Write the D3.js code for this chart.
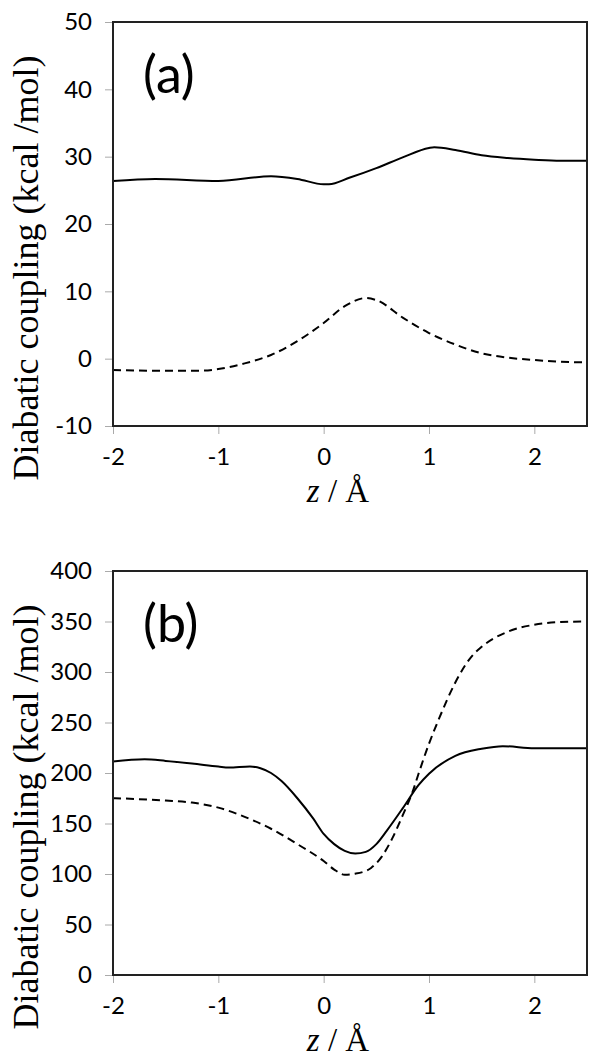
<!DOCTYPE html>
<html>
<head>
<meta charset="utf-8">
<script src="https://cdn.jsdelivr.net/npm/d3@7"></script>
<style>
  body { margin: 0; background: #fff; }
  .tick text { font-family: Lato, "Open Sans", sans-serif; font-size: 24px; fill: #000; }
  .tick line { stroke: #aaa; }
  .domain { display: none; }
</style>
</head>
<body>
<svg id="chart" width="602" height="1061"></svg>
<script>
// x positions (z / Å)
var zA = [-2, -1.6, -1, -0.5, -0.25, 0, 0.05, 0.25, 0.5, 0.75, 1.0, 1.05, 1.25, 1.5, 1.75, 2.0, 2.25, 2.5];
var solidA = [26.4, 26.7, 26.4, 27.1, 26.7, 25.9, 25.9, 26.9, 28.3, 29.9, 31.3, 31.4, 31.0, 30.2, 29.8, 29.55, 29.4, 29.4];

var zAd = [-2, -1.5, -1.2, -1, -0.75, -0.5, -0.25, 0, 0.2, 0.4, 0.5, 0.75, 1.0, 1.25, 1.5, 1.75, 2.0, 2.25, 2.5];
var dashA = [-1.7, -1.8, -1.8, -1.55, -0.7, 0.55, 2.6, 5.3, 7.8, 9.0, 8.7, 6.1, 3.8, 2.1, 0.8, 0.15, -0.2, -0.45, -0.55];

var zB = [-2, -1.7, -1.5, -1.25, -1, -0.9, -0.7, -0.6, -0.5, -0.4, -0.25, -0.1, 0, 0.1, 0.2, 0.3, 0.4, 0.5, 0.6, 0.75, 0.9, 1.0, 1.25, 1.5, 1.7, 2.0, 2.5];
var solidB = [211.4, 213.5, 212, 209.4, 206.4, 205.4, 206.4, 204.7, 200, 192, 175, 155, 139.7, 129.6, 122.9, 120.2, 121.9, 129.6, 143, 165, 188, 199.3, 217, 224, 226.6, 224.6, 224.6];

var zBd = [-2, -1.5, -1.25, -1, -0.75, -0.5, -0.25, 0, 0.1, 0.2, 0.3, 0.45, 0.55, 0.65, 0.75, 0.85, 0.9, 1.0, 1.1, 1.25, 1.4, 1.5, 1.75, 2.0, 2.25, 2.5];
var dashB = [175.1, 172.7, 170.7, 165.7, 156.6, 144.8, 129.6, 112.8, 104.4, 99.3, 100.3, 106, 117, 135, 158, 183, 199, 229, 255, 289.6, 314.8, 324.9, 340, 346.8, 349.5, 350];

var xTicks = [-2, -1, 0, 1, 2];
var yTicksA = [-10, 0, 10, 20, 30, 40, 50];
var yTicksB = [0, 50, 100, 150, 200, 250, 300, 350, 400];

var svg = d3.select("#chart");

function drawPanel(top, yDomain, yTicks, label, zs, ys, zd, yd) {
    var left = 113, right = 587, h = 404;
    var x = d3.scaleLinear().domain([-2, 2.5]).range([left, right]);
    var y = d3.scaleLinear().domain(yDomain).range([top + h, top]);

    svg.append("g")
       .attr("transform", "translate(0," + (top + h) + ")")
       .call(d3.axisBottom(x).tickValues(xTicks).tickSize(8).tickPadding(14)
             .tickFormat(function(d) { return d; }));

    svg.append("g")
       .attr("transform", "translate(" + left + ",0)")
       .call(d3.axisLeft(y).tickValues(yTicks).tickSize(8).tickPadding(13)
             .tickFormat(function(d) { return d; }));

    var line = d3.line()
                 .x(function(d) { return x(d[0]); })
                 .y(function(d) { return y(d[1]); })
                 .curve(d3.curveMonotoneX);

    svg.append("path")
       .datum(zs.map(function(z, i) { return [z, ys[i]]; }))
       .attr("d", line)
       .attr("fill", "none")
       .attr("stroke", "#000")
       .attr("stroke-width", 2);

    svg.append("path")
       .datum(zd.map(function(z, i) { return [z, yd[i]]; }))
       .attr("d", line)
       .attr("fill", "none")
       .attr("stroke", "#000")
       .attr("stroke-width", 2)
       .attr("stroke-dasharray", "8,5");

    // frame
    svg.append("rect")
       .attr("x", left).attr("y", top)
       .attr("width", right - left).attr("height", h)
       .attr("fill", "none")
       .attr("stroke", "#222")
       .attr("stroke-width", 2);

    svg.append("text")
       .attr("x", 143)
       .attr("y", top + 71)
       .attr("font-family", "Lato, 'Open Sans', sans-serif")
       .attr("font-size", "52px")
       .text(label);

    svg.append("text")
       .attr("transform", "translate(38," + (top + 246) + ") rotate(-90)")
       .attr("text-anchor", "middle")
       .attr("font-family", "'Liberation Serif', 'DejaVu Serif', serif")
       .attr("font-size", "36px")
       .text("Diabatic coupling (kcal /mol)");

    var xl = svg.append("text")
       .attr("x", 338)
       .attr("y", top + h + 76)
       .attr("text-anchor", "middle")
       .attr("font-family", "'Liberation Serif', 'DejaVu Serif', serif")
       .attr("font-size", "33px");
    xl.append("tspan").attr("font-style", "italic").text("z");
    xl.append("tspan").text(" / Å");
}

drawPanel(22, [-10, 50], yTicksA, "(a)", zA, solidA, zAd, dashA);
drawPanel(571, [0, 400], yTicksB, "(b)", zB, solidB, zBd, dashB);
</script>
</body>
</html>
